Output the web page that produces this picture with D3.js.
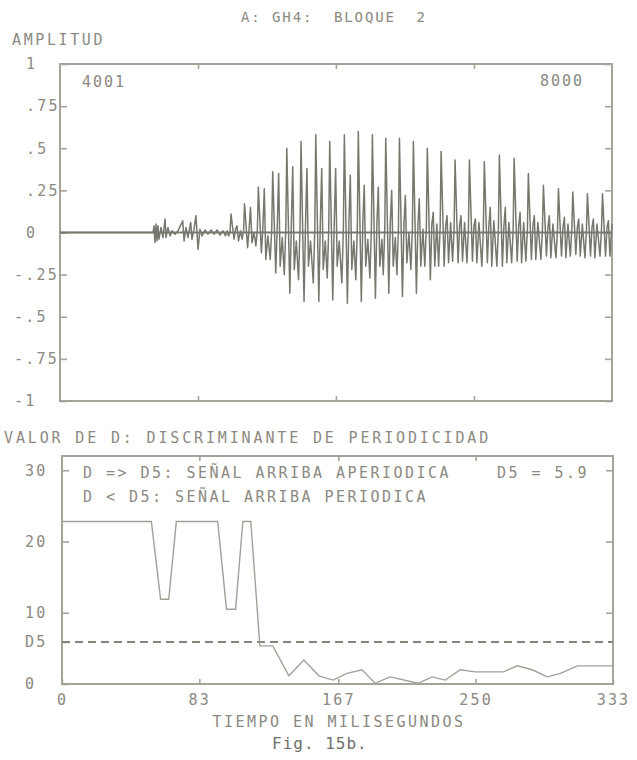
<!DOCTYPE html>
<html>
<head>
<meta charset="utf-8">
<script src="https://cdn.jsdelivr.net/npm/d3@7"></script>
<style>
body { margin: 0; background: #fff; }
text { font-family: "DejaVu Sans Mono", monospace; fill: #8b8981; white-space: pre; }
</style>
</head>
<body>
<script>
// ---- data ----

// top panel: amplitude axis
const ampTicks = [1, 0.75, 0.5, 0.25, 0, -0.25, -0.5, -0.75, -1]
const ampLabels = ["1", ".75", ".5", ".25", "0", "-.25", "-.5", "-.75", "-1"]
const sampleStart = 4001
const sampleEnd = 8000
const sampleTicks = [5001, 6000, 7000]

// unvoiced part before the pitch pulses (sample, amplitude)
const noiseSample = [4001, 4675, 4682, 4689, 4697, 4704, 4711, 4718, 4733, 4747, 4762, 4769, 4783, 4798, 4813, 4834, 4856,
  4890, 4900, 4914, 4928, 4948, 4957, 4972, 4986, 5001, 5015, 5030, 5052, 5073, 5095, 5117, 5139, 5160, 5182, 5200, 5212]
const noiseAmp = [0, 0, 0.04, -0.06, 0.05, -0.05, 0.04, -0.04, 0.03, -0.03, 0.08, -0.03, 0.03, -0.02, 0.01, -0.01, 0.01,
  0.07, -0.05, 0.03, -0.03, 0.06, -0.04, 0.02, 0.10, -0.10, 0.02, -0.02, 0.015, -0.01, 0.015, -0.01, 0.015, -0.015, 0.01, -0.02, 0.01]

// voiced part: one entry per pitch pulse
const pulseAt = [5240, 5338, 5438, 5542, 5644, 5747, 5854, 5955, 6061, 6162, 6264, 6361, 6460, 6561, 6662, 6762, 6863,
  6967, 7075, 7184, 7291, 7394, 7503, 7612, 7716, 7822, 7931]
const pulseOffsets = [-18, -7, 0, 22, 33, 43, 54, 69]
const preDip = [-0.02, -0.04, -0.08, -0.16, -0.25, -0.28, -0.30, -0.27, -0.30, -0.28, -0.27, -0.25, -0.25, -0.22, -0.20,
  -0.20, -0.17, -0.18, -0.20, -0.20, -0.18, -0.17, -0.16, -0.15, -0.14, -0.15, -0.14]
const leadLevel = [0, 0.01, 0.02, 0.02, 0.03, 0.03, 0.03, 0.03, 0.03, 0.03, 0.03, 0.03, 0.03, 0.03, 0.03, 0.03, 0.02,
  0.02, 0.02, 0.02, 0.02, 0.02, 0.02, 0.02, 0.02, 0.02, 0.02]
const pulseUp = [0.11, 0.17, 0.27, 0.36, 0.50, 0.54, 0.58, 0.54, 0.58, 0.60, 0.58, 0.56, 0.56, 0.54, 0.50, 0.48, 0.43,
  0.43, 0.42, 0.46, 0.44, 0.35, 0.28, 0.26, 0.24, 0.23, 0.23]
const pulseDown = [-0.04, -0.09, -0.12, -0.24, -0.36, -0.41, -0.41, -0.40, -0.42, -0.41, -0.39, -0.36, -0.38, -0.36, -0.28,
  -0.20, -0.18, -0.17, -0.18, -0.20, -0.17, -0.16, -0.14, -0.14, -0.13, -0.14, -0.14]
const midLevel = [0.02, 0.02, 0.03, 0.04, 0.05, 0.06, 0.06, 0.06, 0.06, 0.06, 0.06, 0.06, 0.05, 0.05, 0.05, 0.04, 0.04,
  0.04, 0.04, 0.04, 0.04, 0.04, 0.03, 0.03, 0.03, 0.03, 0.03]
const echoUp = [0.04, 0.15, 0.26, 0.35, 0.39, 0.38, 0.38, 0.38, 0.34, 0.28, 0.27, 0.25, 0.22, 0.20, 0.12, 0.10, 0.10,
  0.08, 0.15, 0.15, 0.12, 0.10, 0.10, 0.09, 0.08, 0.08, 0.07]
const echoDown = [-0.05, -0.06, -0.16, -0.20, -0.22, -0.20, -0.22, -0.20, -0.22, -0.20, -0.20, -0.20, -0.18, -0.20, -0.20,
  -0.18, -0.17, -0.18, -0.20, -0.18, -0.18, -0.16, -0.15, -0.15, -0.14, -0.15, -0.14]
const tailLevel = [0.01, 0, -0.02, -0.03, -0.05, -0.05, -0.05, -0.05, -0.05, -0.04, -0.04, -0.03, 0, 0.02, 0.05, 0.06,
  0.06, 0.06, 0.07, 0.06, 0.06, 0.06, 0.05, 0.05, 0.05, 0.05, 0.05]

// bottom panel: discriminant D over time (ms)
const dTime = [0, 54, 59.6, 64.5, 69.1, 94.1, 99.4, 104.9, 109.3, 114.1, 119.6, 127.4, 137.1, 146.2, 155.3, 163.8, 172.2,
  181.3, 189.2, 198.3, 215.2, 223.7, 231.6, 240.7, 249.8, 266.7, 275.2, 284.2, 293.3, 301.2, 311.5, 333]
const dValue = [22.8, 22.8, 11.9, 11.9, 22.8, 22.8, 10.5, 10.5, 22.8, 22.8, 5.35, 5.35, 1.15, 3.35, 1.15, 0.55, 1.5,
  2.0, 0.1, 1.0, 0.1, 1.0, 0.55, 2.0, 1.7, 1.7, 2.55, 2.0, 1.0, 1.5, 2.55, 2.55]
const threshold = 5.9
const dTicks = [0, 5.9, 10, 20, 30]
const dLabels = ["0", "D5", "10", "20", "30"]
const timeTicks = [0, 83, 167, 250, 333]

// ---- drawing ----
const w = 637
const h = 760
const ink = "#8b8981"
const frameCol = "#a6a49a"
const waveCol = "#78776e"

const svg = d3.select("body")
  .append("svg")
  .attr("width", w)
  .attr("height", h)

function label(x, y, str, size, ls, anchor) {
  return svg.append("text")
    .attr("x", x)
    .attr("y", y)
    .attr("font-size", size)
    .attr("letter-spacing", ls)
    .attr("text-anchor", anchor || "start")
    .text(str)
}

function styleAxis(g) {
  g.attr("font-family", null).attr("font-size", 15)
  g.select(".domain").remove()
  g.selectAll(".tick line").attr("stroke", frameCol).attr("stroke-width", 1.6)
  g.selectAll(".tick text").attr("fill", ink).attr("letter-spacing", 2.2)
}

// top panel
const xTop = d3.scaleLinear().domain([sampleStart, sampleEnd]).range([60, 612])
const yTop = d3.scaleLinear().domain([-1, 1]).range([401, 64])

label(241, 22, "A: GH4:  BLOQUE  2", 14, 1.9)
label(12, 45, "AMPLITUD", 15, 2.6)

svg.append("g")
  .attr("transform", "translate(60,0)")
  .call(d3.axisLeft(yTop).tickValues(ampTicks).tickSize(-7).tickFormat((d, i) => ampLabels[i]))
  .call(styleAxis)
  .selectAll(".tick text")
  .attr("text-anchor", "start")
  .attr("x", d => d < 0 ? -46 : -34)

svg.append("g")
  .attr("transform", "translate(612,0)")
  .call(d3.axisRight(yTop).tickValues(ampTicks).tickSize(-7).tickFormat(""))
  .call(styleAxis)

svg.append("g")
  .attr("transform", "translate(0,64)")
  .call(d3.axisTop(xTop).tickValues(sampleTicks).tickSize(-5).tickFormat(""))
  .call(styleAxis)

svg.append("g")
  .attr("transform", "translate(0,401)")
  .call(d3.axisBottom(xTop).tickValues(sampleTicks).tickSize(-5).tickFormat(""))
  .call(styleAxis)

svg.append("rect")
  .attr("x", xTop(sampleStart))
  .attr("y", yTop(1))
  .attr("width", xTop(sampleEnd) - xTop(sampleStart))
  .attr("height", yTop(-1) - yTop(1))
  .attr("fill", "none")
  .attr("stroke", frameCol)
  .attr("stroke-width", 2)

label(xTop(sampleStart) + 22, 87, "4001", 15, 2)
label(xTop(sampleEnd) - 28, 86, "8000", 15, 2, "end")

svg.append("line")
  .attr("x1", xTop(sampleStart))
  .attr("x2", xTop(sampleEnd))
  .attr("y1", yTop(0))
  .attr("y2", yTop(0))
  .attr("stroke", waveCol)
  .attr("stroke-width", 1.8)

const wave = noiseSample.map((s, i) => [s, noiseAmp[i]])
pulseAt.forEach((p, i) => {
  const vals = [preDip[i], leadLevel[i], pulseUp[i], pulseDown[i], midLevel[i], echoUp[i], echoDown[i], tailLevel[i]]
  pulseOffsets.forEach((o, j) => wave.push([p + o, vals[j]]))
})

svg.append("path")
  .datum(wave)
  .attr("fill", "none")
  .attr("stroke", waveCol)
  .attr("stroke-width", 1.5)
  .attr("stroke-linejoin", "round")
  .attr("d", d3.line().x(d => xTop(d[0])).y(d => yTop(d[1])))

// bottom panel
const xBot = d3.scaleLinear().domain([0, 333]).range([62, 613])
const yBot = d3.scaleLinear().domain([0, 32]).range([684, 456])

label(4, 443, "VALOR DE D: DISCRIMINANTE DE PERIODICIDAD", 15, 2.85)

svg.append("g")
  .attr("transform", "translate(62,0)")
  .call(d3.axisLeft(yBot).tickValues(dTicks).tickSize(-7).tickFormat((d, i) => dLabels[i]))
  .call(styleAxis)
  .selectAll(".tick text")
  .attr("text-anchor", "start")
  .attr("x", -37)

svg.append("g")
  .attr("transform", "translate(613,0)")
  .call(d3.axisRight(yBot).tickValues([10, 20, 30]).tickSize(-7).tickFormat(""))
  .call(styleAxis)

svg.append("g")
  .attr("transform", "translate(0,456)")
  .call(d3.axisTop(xBot).tickValues(timeTicks.slice(1, 4)).tickSize(-5).tickFormat(""))
  .call(styleAxis)

svg.append("g")
  .attr("transform", "translate(0,684)")
  .call(d3.axisBottom(xBot).tickValues(timeTicks).tickSize(-5).tickPadding(10))
  .call(styleAxis)

svg.append("rect")
  .attr("x", xBot(0))
  .attr("y", yBot(32))
  .attr("width", xBot(333) - xBot(0))
  .attr("height", yBot(0) - yBot(32))
  .attr("fill", "none")
  .attr("stroke", frameCol)
  .attr("stroke-width", 2)

svg.append("line")
  .attr("x1", xBot(0))
  .attr("x2", xBot(333))
  .attr("y1", yBot(threshold))
  .attr("y2", yBot(threshold))
  .attr("stroke", "#86847b")
  .attr("stroke-width", 2)
  .attr("stroke-dasharray", "8,5")

svg.append("path")
  .datum(dTime.map((t, i) => [t, dValue[i]]))
  .attr("fill", "none")
  .attr("stroke", "#a2a097")
  .attr("stroke-width", 1.4)
  .attr("d", d3.line().x(d => xBot(d[0])).y(d => yBot(d[1])))

label(83, 478, "D => D5: SEÑAL ARRIBA APERIODICA    D5 = 5.9", 15, 2.47)
label(83, 502, "D < D5: SEÑAL ARRIBA PERIODICA", 15, 2.47)

label(339, 727, "TIEMPO EN MILISEGUNDOS", 15, 2.47, "middle")
label(272, 749, "Fig. 15b.", 16, 1)
  .style("fill", "#6f6e6a")
</script>
</body>
</html>
